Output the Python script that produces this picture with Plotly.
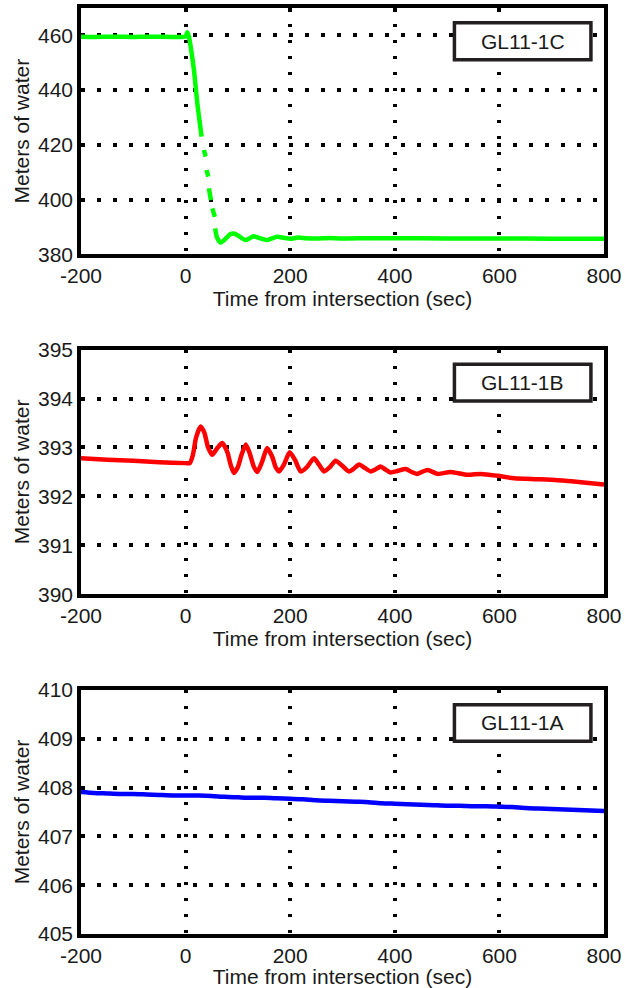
import plotly.graph_objects as go

# ---- GL11-1C pressure record (gaps where samples are missing) ----
gl1c_t = [-200, -175, -150, -125, -100, -75, -50, -25, 0, 3, 6, 9.6, 15.9, 22.4, 30.6,
          None, 35, 38.3, None, 40, 43.4, None, 44.6, 48.4, None, 51, 56, None,
          56.5, 60, 67, 75, 85, 92, 100, 114, 122, 130, 143, 156, 165, 175, 188,
          200, 215, 230, 250, 275, 300, 350, 400, 500, 600, 700, 800]
gl1c_v = [459.5, 459.4, 459.5, 459.5, 459.4, 459.5, 459.5, 459.4, 459.6, 461.1, 459.8, 456.0, 447.4, 435.2, 423.0,
          None, 418.1, 415.7, None, 410.8, 408.4, None, 404.1, 399.8, None, 396.8, 393.7, None,
          389.5, 386.2, 384.3, 385.4, 387.3, 387.6, 386.9, 385.2, 385.8, 386.6, 385.8, 385.2, 385.8, 386.4, 386.0,
          385.7, 386.1, 385.9, 385.8, 386.0, 385.8, 385.9, 385.9, 385.8, 385.8, 385.7, 385.7]

# ---- GL11-1B pressure record ----
gl1b_t = [-200, -150, -100, -50, 0, 8, 14, 20, 28.7, 36, 43, 51, 60, 70, 80, 86, 92.4, 100, 107,
          115, 122, 130, 137, 146, 156, 166, 172, 178.6, 188, 199, 209, 220, 232, 245.6, 255,
          264.7, 276, 287, 300, 312.5, 322, 331.7, 343, 354, 363, 373, 382, 392, 405, 421, 432,
          443, 452, 463, 482, 507, 539, 565, 597, 628, 673, 711, 756, 800]
gl1b_v = [392.78, 392.75, 392.73, 392.70, 392.68, 392.68, 392.85, 393.20, 393.43, 393.30, 393.00, 392.85,
          392.98, 393.09, 392.90, 392.65, 392.48, 392.60, 392.85, 393.06, 392.90, 392.62, 392.50, 392.70,
          392.99, 392.80, 392.60, 392.51, 392.65, 392.90, 392.75, 392.51, 392.60, 392.78, 392.65, 392.51,
          392.60, 392.73, 392.62, 392.51, 392.57, 392.65, 392.58, 392.51, 392.55, 392.61, 392.55, 392.49,
          392.52, 392.56, 392.50, 392.46, 392.50, 392.54, 392.46, 392.50, 392.44, 392.46, 392.42, 392.37,
          392.35, 392.33, 392.29, 392.24]

# ---- GL11-1A pressure record ----
gl1a_t = [-200, -175, -150, -125, -100, -75, -50, -25, 0, 25, 50, 75, 100, 125, 150, 175, 200,
          225, 250, 275, 300, 325, 350, 375, 400, 425, 450, 475, 500, 525, 550, 575, 600, 625, 650,
          675, 700, 725, 750, 775, 800]
gl1a_v = [407.91, 407.89, 407.88, 407.87, 407.87, 407.86, 407.85, 407.84, 407.84, 407.84, 407.83,
          407.81, 407.80, 407.79, 407.79, 407.78, 407.77, 407.76, 407.74, 407.73, 407.72, 407.71, 407.70,
          407.68, 407.67, 407.66, 407.65, 407.64, 407.63, 407.63, 407.62, 407.62, 407.61, 407.60, 407.58,
          407.57, 407.56, 407.55, 407.54, 407.53, 407.52]

x_ticks = [-200, 0, 200, 400, 600, 800]
panels = [
    dict(name="GL11-1C", t=gl1c_t, v=gl1c_v, color="#00FF00", yrange=[380, 470],
         yticks=[380, 400, 420, 440, 460], domain=[0.734, 1.0]),
    dict(name="GL11-1B", t=gl1b_t, v=gl1b_v, color="#FF0000", yrange=[390, 395],
         yticks=[390, 391, 392, 393, 394, 395], domain=[0.367, 0.631]),
    dict(name="GL11-1A", t=gl1a_t, v=gl1a_v, color="#0000FF", yrange=[405, 410],
         yticks=[405, 406, 407, 408, 409, 410], domain=[0.0, 0.2635]),
]

FONT = "Liberation Sans, Arial, sans-serif"
INK = "#1a1a1a"

fig = go.Figure()
layout = dict(
    width=625, height=988,
    margin=dict(l=81, r=21, t=8, b=54),
    paper_bgcolor="white", plot_bgcolor="white",
    showlegend=False,
    font=dict(family=FONT, size=21, color=INK),
)

shapes = []
annotations = []
for i, p in enumerate(panels):
    sfx = "" if i == 0 else str(i + 1)
    xa, ya = "x" + sfx, "y" + sfx
    fig.add_trace(go.Scatter(
        x=p["t"], y=p["v"], xaxis=xa, yaxis=ya, mode="lines",
        line=dict(color=p["color"], width=4.5, shape="spline", smoothing=0.6),
        connectgaps=False, hoverinfo="skip",
    ))
    axis_common = dict(
        showline=True, mirror=True, linecolor="black", linewidth=3.5,
        showgrid=True, gridcolor="black", gridwidth=3.5, griddash="3.5px,12.5px",
        zeroline=False, ticks="", automargin=False,
        tickfont=dict(family=FONT, size=21, color=INK),
    )
    layout["xaxis" + sfx] = dict(
        axis_common, range=[-200, 800], tickvals=x_ticks,
        ticktext=[str(v) for v in x_ticks], anchor=ya,
        title=dict(text="Time from intersection (sec)", standoff=0,
                   font=dict(family=FONT, size=21, color=INK)),
    )
    layout["yaxis" + sfx] = dict(
        axis_common, range=p["yrange"], tickvals=p["yticks"],
        ticktext=[str(v) for v in p["yticks"]], anchor=xa, domain=p["domain"],
        title=dict(text="Meters of water", standoff=4,
                   font=dict(family=FONT, size=21, color=INK)),
    )
    # labelled box in the upper right corner
    shapes.append(dict(type="rect", xref=xa + " domain", yref=ya + " domain",
                       x0=0.714, x1=0.975, y0=0.79, y1=0.94,
                       line=dict(color="#231F20", width=3.5), fillcolor="white", layer="above"))
    annotations.append(dict(text=p["name"], xref=xa + " domain", yref=ya + " domain",
                            x=0.8445, y=0.865, showarrow=False, xanchor="center", yanchor="middle",
                            font=dict(family=FONT, size=21, color=INK)))

layout["shapes"] = shapes
layout["annotations"] = annotations
fig.update_layout(**layout)
fig.write_html("out.html")
